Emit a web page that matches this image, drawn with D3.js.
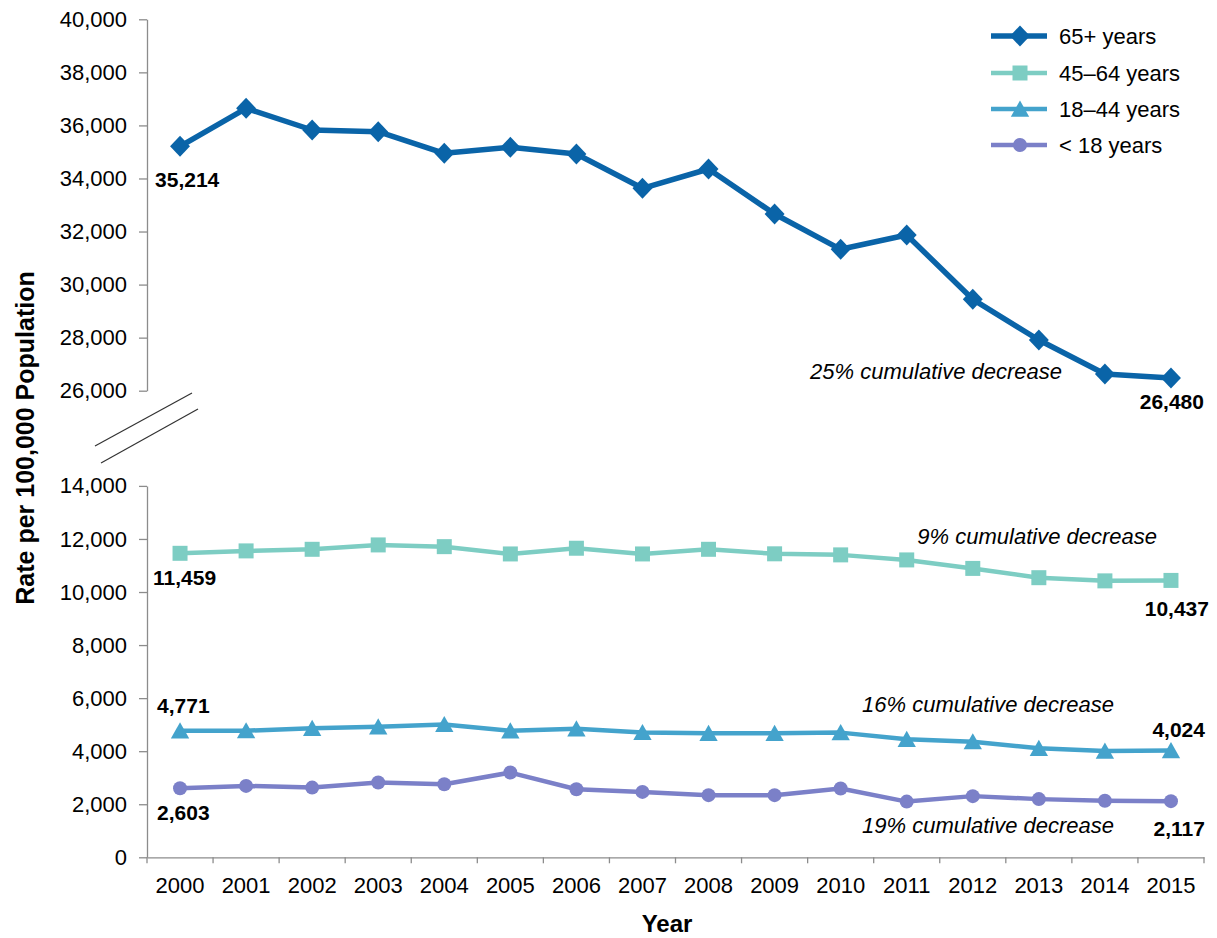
<!DOCTYPE html>
<html>
<head>
<meta charset="utf-8">
<script src="https://cdn.jsdelivr.net/npm/d3@7"></script>
<style>
  body { margin: 0; background: #fff; }
  text { font-family: "Liberation Sans", Arial, sans-serif; fill: #000; }
</style>
</head>
<body>
<svg id="chart" width="1217" height="938"></svg>
<script>
// Rate per 100,000 population by age group, 2000–2015
const years = ["2000","2001","2002","2003","2004","2005","2006","2007",
               "2008","2009","2010","2011","2012","2013","2014","2015"];
const rate65plus  = [35214, 36645, 35827, 35763, 34948, 35175, 34922, 33629,
                     34357, 32660, 31330, 31869, 29445, 27911, 26629, 26480];
const rate45to64  = [11459, 11550, 11610, 11775, 11710, 11435, 11650, 11435,
                     11610, 11440, 11400, 11210, 10890, 10540, 10420, 10437];
const rate18to44  = [4771, 4772, 4860, 4922, 5010, 4771, 4846, 4708,
                     4674, 4674, 4700, 4448, 4357, 4108, 4007, 4024];
const rateUnder18 = [2603, 2691, 2628, 2817, 2754, 3194, 2565, 2465,
                     2343, 2343, 2592, 2100, 2306, 2193, 2130, 2117];
const seriesNames = ["65+ years", "45\u201364 years", "18\u201344 years", "< 18 years"];
const decreaseNotes = ["25% cumulative decrease", "9% cumulative decrease",
                       "16% cumulative decrease", "19% cumulative decrease"];
const upperTicks = [26000, 28000, 30000, 32000, 34000, 36000, 38000, 40000];
const lowerTicks = [0, 2000, 4000, 6000, 8000, 10000, 12000, 14000];

const svg = d3.select("#chart");
const fmt = d3.format(",");
const axisColor = "#8c8c8c";

// Layout of the split plot
const left = 147, right = 1204;
const x = d3.scaleBand().domain(years).range([left, right]).padding(0);
const cx = d => x(d) + x.bandwidth() / 2;
const yUpper = d3.scaleLinear().domain([26000, 40000]).range([390.7, 19.3]);
const yLower = d3.scaleLinear().domain([0, 14000]).range([857.3, 485.9]);

// Y axes (upper break segment and lower segment)
function drawYAxis(scale, ticks) {
  const g = svg.append("g").attr("transform", `translate(${left},0)`)
    .call(d3.axisLeft(scale).tickValues(ticks).tickFormat(fmt)
      .tickSize(8).tickSizeOuter(0).tickPadding(12));
  g.selectAll("path, line").attr("stroke", axisColor).attr("stroke-width", 1.3);
  g.selectAll("text").attr("font-size", 22).attr("fill", "#111");
}
drawYAxis(yUpper, upperTicks);
drawYAxis(yLower, lowerTicks);

// Axis break marks
const brk = svg.append("g").attr("stroke", "#333").attr("stroke-width", 1.2);
brk.append("line").attr("x1", 95).attr("y1", 446).attr("x2", 192).attr("y2", 393);
brk.append("line").attr("x1", 101).attr("y1", 463).attr("x2", 198).attr("y2", 409);

// X axis: labels centred in bands, ticks on band edges
const xg = svg.append("g").attr("transform", `translate(0,${yLower(0)})`)
  .call(d3.axisBottom(x).tickSize(0).tickPadding(20));
xg.select(".domain").attr("stroke", axisColor).attr("stroke-width", 1.3);
xg.selectAll("text").attr("font-size", 22).attr("fill", "#111");
const edges = years.map(d => x(d)).concat([right]);
svg.append("g").selectAll("line").data(edges).join("line")
  .attr("x1", d => d).attr("x2", d => d)
  .attr("y1", yLower(0)).attr("y2", yLower(0) + 6)
  .attr("stroke", axisColor).attr("stroke-width", 1.3);

// Axis titles
svg.append("text").attr("x", 667).attr("y", 932).attr("text-anchor", "middle")
  .attr("font-size", 24).attr("font-weight", "bold").text("Year");
svg.append("text").attr("transform", "translate(34,438) rotate(-90)")
  .attr("text-anchor", "middle").attr("font-size", 25).attr("font-weight", "bold")
  .text("Rate per 100,000 Population");

// Marker shapes
const diamond = { draw(p, r) { p.moveTo(0, -r); p.lineTo(r * 0.95, 0); p.lineTo(0, r); p.lineTo(-r * 0.95, 0); p.closePath(); } };
const square = { draw(p, r) { p.rect(-r, -r, 2 * r, 2 * r); } };
const triangle = { draw(p, r) { p.moveTo(0, -r); p.lineTo(r * 1.08, r * 0.9); p.lineTo(-r * 1.08, r * 0.9); p.closePath(); } };
const circle = { draw(p, r) { p.moveTo(r, 0); p.arc(0, 0, r, 0, 2 * Math.PI); } };

const series = [
  { name: seriesNames[0], values: rate65plus,  scale: yUpper, color: "#0A64A8", width: 5.5, shape: diamond,  r: 10.5 },
  { name: seriesNames[1], values: rate45to64,  scale: yLower, color: "#7DCDC3", width: 4.5, shape: square,   r: 7.5 },
  { name: seriesNames[2], values: rate18to44,  scale: yLower, color: "#44A3CC", width: 4.5, shape: triangle, r: 8.5 },
  { name: seriesNames[3], values: rateUnder18, scale: yLower, color: "#7B80C8", width: 4.5, shape: circle,   r: 7 }
];

series.forEach(s => {
  const pts = years.map((yr, i) => ({ yr, v: s.values[i] }));
  const line = d3.line().x(d => cx(d.yr)).y(d => s.scale(d.v));
  svg.append("path").datum(pts).attr("d", line)
    .attr("fill", "none").attr("stroke", s.color).attr("stroke-width", s.width)
    .attr("stroke-linejoin", "round");
  svg.append("g").selectAll("path").data(pts).join("path")
    .attr("d", d3.symbol().type(s.shape).size(s.r))
    .attr("transform", d => `translate(${cx(d.yr)},${s.scale(d.v)})`)
    .attr("fill", s.color);
});

// First and last value labels
const labelSpecs = [
  { s: 0, i: 0,  dx: -25, dy: 41,  anchor: "start" },
  { s: 0, i: 15, dx: 33,  dy: 31,  anchor: "end" },
  { s: 1, i: 0,  dx: -27, dy: 32,  anchor: "start" },
  { s: 1, i: 15, dx: 38,  dy: 36,  anchor: "end" },
  { s: 2, i: 0,  dx: -23, dy: -18, anchor: "start" },
  { s: 2, i: 15, dx: 34,  dy: -14, anchor: "end" },
  { s: 3, i: 0,  dx: -23, dy: 32,  anchor: "start" },
  { s: 3, i: 15, dx: 34,  dy: 35,  anchor: "end" }
];
svg.append("g").selectAll("text").data(labelSpecs).join("text")
  .attr("x", d => cx(years[d.i]) + d.dx)
  .attr("y", d => series[d.s].scale(series[d.s].values[d.i]) + d.dy)
  .attr("text-anchor", d => d.anchor)
  .attr("font-size", 21).attr("font-weight", "bold")
  .text(d => fmt(series[d.s].values[d.i]));

// Cumulative decrease notes
const notePos = [ { x: 1062, y: 379 }, { x: 1157, y: 544 }, { x: 1114, y: 712 }, { x: 1114, y: 833 } ];
svg.append("g").selectAll("text").data(decreaseNotes).join("text")
  .attr("x", (d, i) => notePos[i].x).attr("y", (d, i) => notePos[i].y)
  .attr("text-anchor", "end").attr("font-size", 22).attr("font-style", "italic")
  .attr("fill", "#111").text(d => d);

// Legend
const legendRows = [36, 73, 109, 145];
const lg = svg.append("g").selectAll("g").data(series).join("g")
  .attr("transform", (d, i) => `translate(0,${legendRows[i]})`);
lg.append("line").attr("x1", 991).attr("x2", 1047).attr("y1", 0).attr("y2", 0)
  .attr("stroke", d => d.color).attr("stroke-width", d => d.width);
lg.append("path").attr("d", d => d3.symbol().type(d.shape).size(d.r)())
  .attr("transform", "translate(1020,0)").attr("fill", d => d.color);
lg.append("text").attr("x", 1059).attr("y", 0).attr("dy", "0.36em")
  .attr("font-size", 22).attr("fill", "#111").text(d => d.name);
</script>
</body>
</html>
